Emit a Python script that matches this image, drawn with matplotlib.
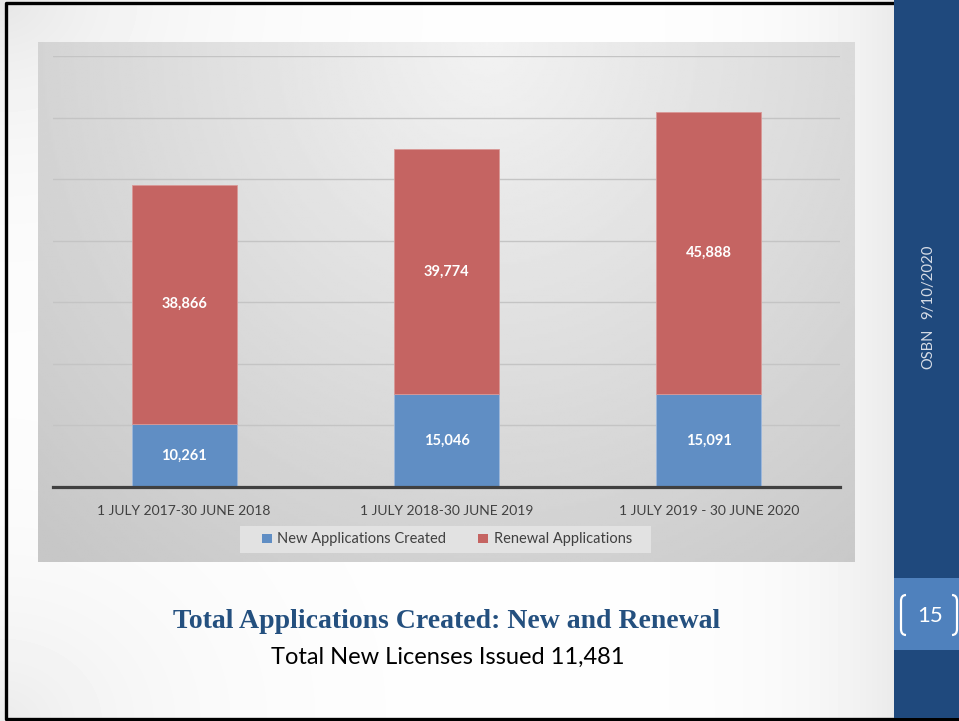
import numpy as np
import matplotlib
matplotlib.use("Agg")
import matplotlib.pyplot as plt
from matplotlib.patches import Rectangle, Patch
from matplotlib.path import Path
from matplotlib.patches import PathPatch

# Data
periods = ["1 JULY 2017-30 JUNE 2018", "1 JULY 2018-30 JUNE 2019", "1 JULY 2019 - 30 JUNE 2020"]
new_apps = [10261, 15046, 15091]
renewal_apps = [38866, 39774, 45888]
series_names = ["New Applications Created", "Renewal Applications"]

blue = "#608EC4"
red = "#C56462"
navy = "#1F497D"

W, H = 959, 721
fig = plt.figure(figsize=(W / 100, H / 100), dpi=100)

# full-figure axes in pixel coordinates for the slide decoration
bg = fig.add_axes([0, 0, 1, 1])
bg.set_xlim(0, W)
bg.set_ylim(H, 0)
bg.axis("off")

# slide background: white with soft grey corners
yy, xx = np.mgrid[0:H, 0:894]
u = xx / 894.0
v = yy / H
shade = (1 - 0.10 * np.exp(-np.hypot(u, v) / 0.18)
         - 0.08 * np.exp(-np.hypot(u, 1 - v) / 0.18)
         - 0.08 * np.exp(-(1 - u) / 0.10))
bg.imshow(shade, cmap="gray", vmin=0, vmax=1, extent=(0, 894, H, 0), aspect="auto", zorder=0)

# chart panel with grey gradient
px0, px1, py0, py1 = 38, 855, 42, 562
pv, pu = np.mgrid[0:1:200j, 0:1:400j]
panel = 0.95 - 0.13 * np.hypot((pu - 0.55) / 0.6, pv)
panel = np.clip(panel, 0.78, 0.95)
bg.imshow(panel, cmap="gray", vmin=0, vmax=1, extent=(px0, px1, py1, py0), aspect="auto", zorder=1)

# legend backdrop
bg.add_patch(Rectangle((240, 526), 411, 27, facecolor="#E2E2E2", edgecolor="none", zorder=2))

# slide frame (top and left stop at the sidebar, bottom runs full width)
bg.plot([894, 6, 6, W + 5], [3, 3, 719, 719], color="black", lw=2.4, zorder=2, clip_on=False)

# right sidebar and page number box
bg.add_patch(Rectangle((894, 0), W - 894, 718, facecolor=navy, edgecolor="none", zorder=3))
bg.add_patch(Rectangle((894, 578), W - 894, 72, facecolor="#4F81BD", edgecolor="none", zorder=3))

# brackets around the page number
def bracket(x_in, x_out, y0, y1):
    verts = [(x_in, y0), (x_out, y0), (x_out, y0 + 6), (x_out, y1 - 6), (x_out, y1), (x_in, y1)]
    codes = [Path.MOVETO, Path.CURVE3, Path.CURVE3, Path.LINETO, Path.CURVE3, Path.CURVE3]
    bg.add_patch(PathPatch(Path(verts, codes), facecolor="none", edgecolor="white", lw=1.6, zorder=4))

bracket(906, 901, 595, 635)
bracket(952, 957, 595, 635)
bg.text(930, 616, "15", color="white", fontsize=16, family="Lato", ha="center", va="center", zorder=5)

bg.text(928, 282, "9/10/2020", color="#D6DCE6", fontsize=10.8, family="Lato", rotation=90,
        ha="center", va="center", zorder=5)
bg.text(928, 349, "OSBN", color="#D6DCE6", fontsize=10.5, family="Lato", rotation=90,
        ha="center", va="center", zorder=5)

# titles
bg.text(447, 621, "Total Applications Created: New and Renewal", color="#24507F",
        fontsize=20, family="Liberation Serif", weight="bold", ha="center", va="center", zorder=5)
bg.text(448, 657, "Total New Licenses Issued 11,481", color="black",
        fontsize=17, family="Lato", ha="center", va="center", zorder=5)

# stacked bar chart
ax = fig.add_axes([53 / W, 1 - 487 / H, (840 - 53) / W, (487 - 56) / H])
ax.patch.set_alpha(0)
x = np.arange(len(periods))
b1 = ax.bar(x, new_apps, width=0.4, color=blue, edgecolor="#9DB8DC", linewidth=0.6, zorder=3,
            label=series_names[0])
b2 = ax.bar(x, renewal_apps, width=0.4, bottom=new_apps, color=red, edgecolor="#D99896",
            linewidth=0.6, zorder=3, label=series_names[1])

for bars in (b1, b2):
    ax.bar_label(bars, labels=[f"{val:,}" for val in bars.datavalues], label_type="center",
                 color="white", fontsize=10.5, family="Lato", weight="bold")

ax.set_xlim(-0.5, 2.5)
ax.set_ylim(0, 70000)
ax.set_yticks(np.arange(0, 70001, 10000))
ax.yaxis.grid(True, color="#C4C4C4", lw=1.0, zorder=0)
ax.tick_params(axis="y", left=False, labelleft=False)
ax.tick_params(axis="x", length=0, pad=13)
ax.set_xticks(x)
ax.set_xticklabels(periods, fontsize=10, family="Lato", color="#404040")
for side in ("top", "right", "left"):
    ax.spines[side].set_visible(False)
ax.spines["bottom"].set_color("#404040")
ax.spines["bottom"].set_linewidth(2.3)
ax.spines["bottom"].set_zorder(4)

handles = [Patch(facecolor=blue), Patch(facecolor=red)]
leg = fig.legend(handles, series_names, loc="center", bbox_to_anchor=(447 / W, 1 - 539.5 / H),
                 ncol=2, frameon=False, handlelength=0.65, handleheight=0.65, handletextpad=0.4,
                 columnspacing=2.2, prop={"family": "Lato", "size": 10.5},
                 labelcolor="#404040")

fig.savefig("out.png", dpi=100)
